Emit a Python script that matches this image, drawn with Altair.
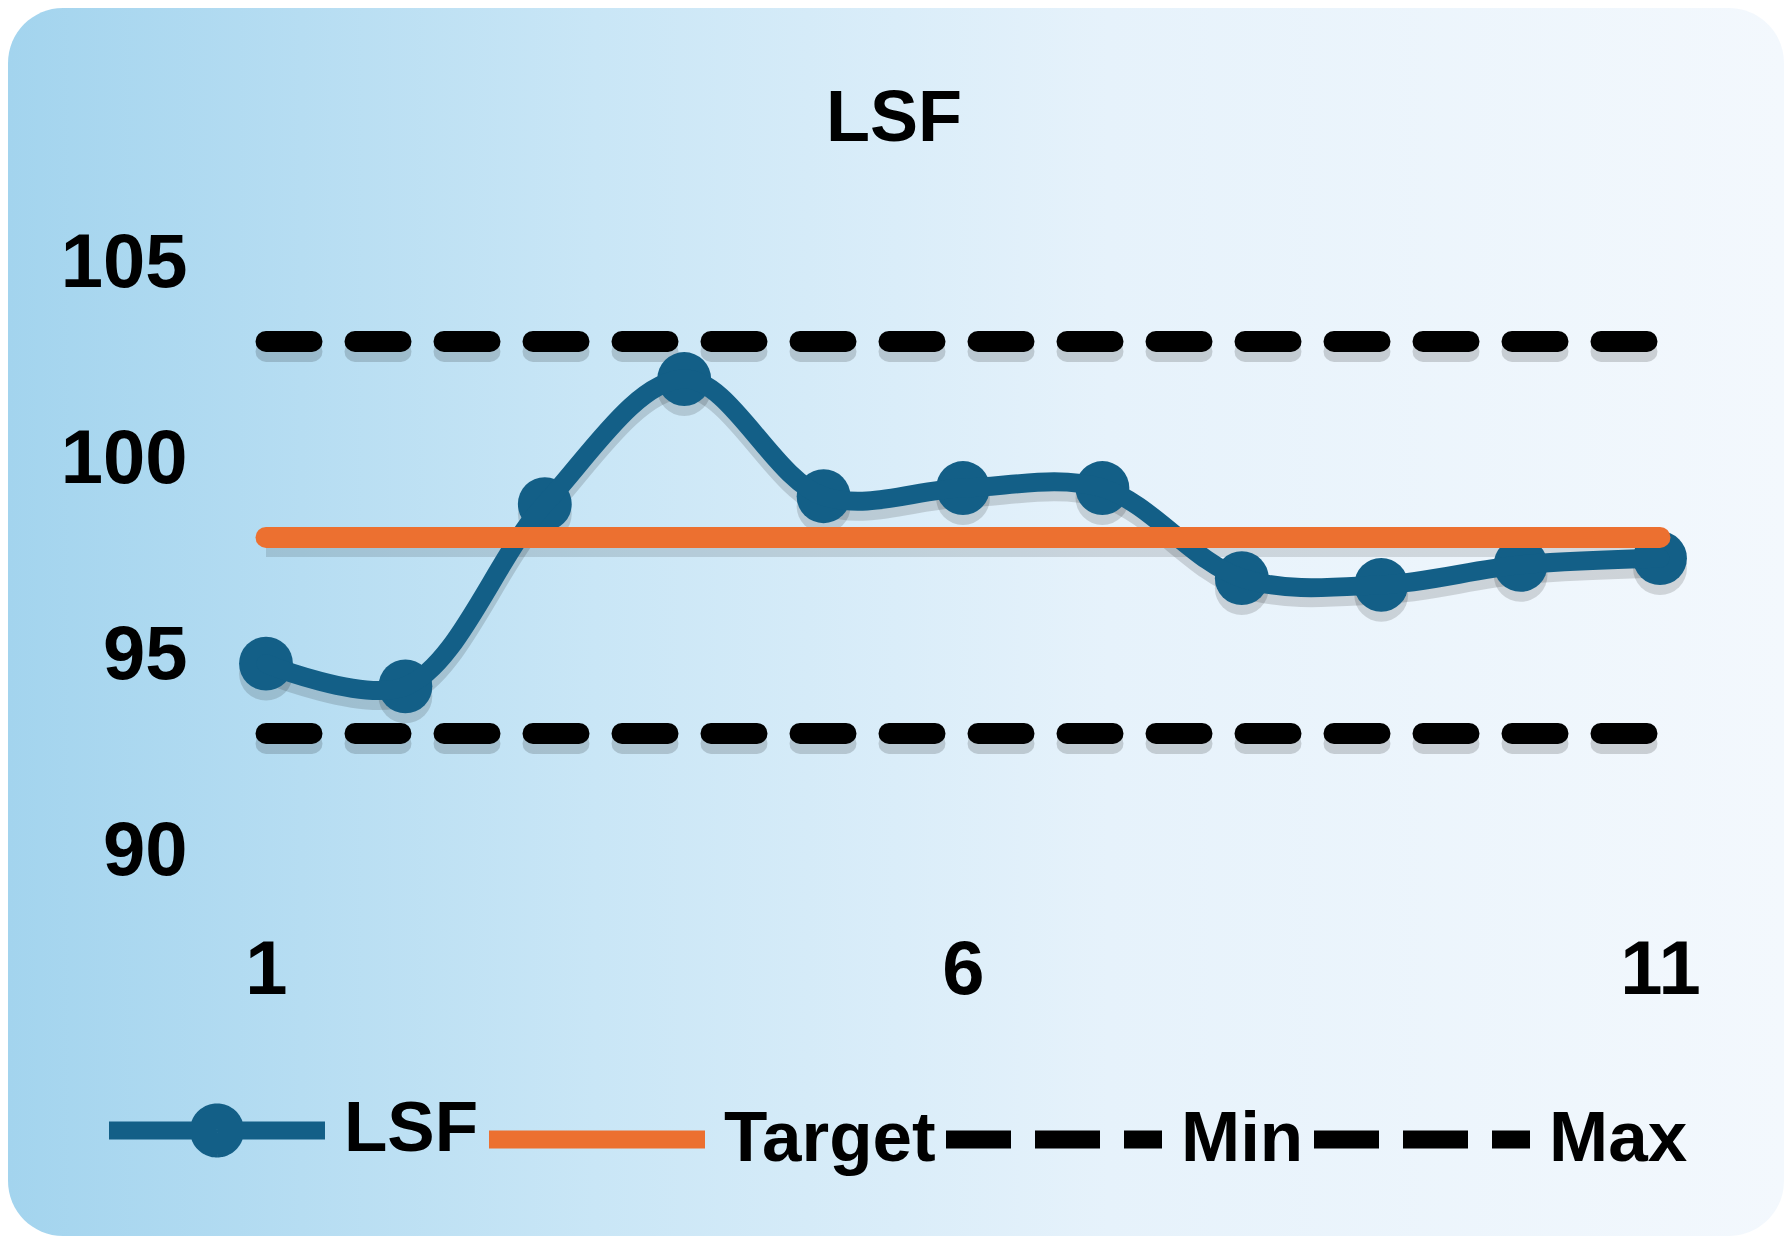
import altair as alt
import pandas as pd

# ---- data ----
x_vals = [1, 2, 3, 4, 5, 6, 7, 8, 9, 10, 11]
lsf_vals = [94.78, 94.2, 98.85, 102.04, 99.05, 99.26, 99.26, 96.96, 96.79, 97.3, 97.47]
target_vals = [98, 98, 98, 98, 98, 98, 98, 98, 98, 98, 98]
min_vals = [93, 93, 93, 93, 93, 93, 93, 93, 93, 93, 93]
max_vals = [103, 103, 103, 103, 103, 103, 103, 103, 103, 103, 103]
series_names = ["LSF", "Target", "Min", "Max"]
series_colors = ["#135f87", "#ec7030", "#000000", "#000000"]
y_ticks = [90, 95, 100, 105]
x_ticks = [1, 6, 11]
title_text = "LSF"

rows = []
for name, vals in zip(series_names, [lsf_vals, target_vals, min_vals, max_vals]):
    for xv, yv in zip(x_vals, vals):
        rows.append({"x": xv, "value": yv, "series": name})
df = pd.DataFrame(rows)

FONT = "Liberation Sans"
W, H = 1394, 588
PAD = {"left": 258, "top": 255, "right": 124, "bottom": 385}

xs = alt.Scale(domain=[1, 11], nice=False, zero=False)
ys = alt.Scale(domain=[90, 105], nice=False, zero=False)

x_enc = alt.X("x:Q", scale=xs, axis=alt.Axis(values=x_ticks, domain=False, ticks=False, tickSize=0,
                                                grid=False, labelFontSize=76, labelFont=FONT,
                                                labelFontWeight="bold", labelColor="black",
                                                labelPadding=82, labelFlush=False, title=None, zindex=2))
y_enc = alt.Y("value:Q", scale=ys, axis=alt.Axis(values=y_ticks, domain=False, ticks=False, tickSize=0,
                                                   grid=False, labelFontSize=76, labelFont=FONT,
                                                   labelFontWeight="bold", labelColor="black",
                                                   labelPadding=79, title=None, zindex=2))

base = alt.Chart(df)
is_dash = alt.FieldOneOfPredicate(field="series", oneOf=["Min", "Max"])
is_solid = alt.FieldOneOfPredicate(field="series", oneOf=["LSF", "Target"])

gradient = alt.LinearGradient(
    gradient="linear",
    stops=[alt.GradientStop(color="#a3d4ee", offset=0),
           alt.GradientStop(color="#c9e6f6", offset=0.33),
           alt.GradientStop(color="#e6f2fb", offset=0.62),
           alt.GradientStop(color="#f3f8fd", offset=1)],
    x1=0, x2=1, y1=0, y2=0)

bg = alt.Chart(pd.DataFrame({"k": [0]})).mark_rect(cornerRadius=55, color=gradient).encode(
    x=alt.value(-PAD["left"]), x2=alt.value(W + PAD["right"]),
    y=alt.value(-PAD["top"]), y2=alt.value(H + PAD["bottom"]))

# soft shadows
sh_dash = base.transform_filter(is_dash).mark_line(
    strokeDash=[46, 43], strokeCap="round", strokeWidth=21, color="#000000", opacity=0.16, yOffset=10
).encode(x=x_enc, y=y_enc, detail="series:N")
sh_target = base.transform_filter(alt.datum.series == "Target").mark_line(
    strokeWidth=21, color="#000000", opacity=0.12, yOffset=9
).encode(x=x_enc, y=y_enc)
sh_lsf = base.transform_filter(alt.datum.series == "LSF").mark_line(
    interpolate="catmull-rom", strokeWidth=19, color="#000000", opacity=0.14, yOffset=10
).encode(x=x_enc, y=y_enc)
sh_pts = base.transform_filter(alt.datum.series == "LSF").mark_circle(
    size=2900, color="#000000", opacity=0.14, yOffset=10
).encode(x=x_enc, y=y_enc)

points = base.transform_filter(alt.datum.series == "LSF").mark_circle(
    size=2900, color="#135f87", opacity=1
).encode(x=x_enc, y=y_enc)

legend_symbol = ("datum.label === 'LSF' ? "
                 "'M-1,0H1M0.046,0A0.046,0.046,0,1,1,-0.046,0A0.046,0.046,0,1,1,0.046,0Z"
                 "M0.13,0A0.13,0.13,0,1,1,-0.13,0A0.13,0.13,0,1,1,0.13,0Z"
                 "M0.167,0A0.167,0.167,0,1,1,-0.167,0A0.167,0.167,0,1,1,0.167,0Z' : 'stroke'")
legend_dash = "(datum.label === 'Min' || datum.label === 'Max') ? [65, 24] : [1, 0]"

leg = alt.Legend(orient="none", legendX=-166, legendY=750, direction="horizontal", title=None,
                 symbolType=alt.ExprRef(expr=legend_symbol), symbolSize=46656, symbolStrokeWidth=18,
                 symbolDash=alt.ExprRef(expr=legend_dash),
                 labelFontSize=71, labelFont=FONT, labelFontWeight="bold", labelColor="black",
                 labelOffset=10, columnPadding=-26, padding=0, labelLimit=400)

color_enc = alt.Color("series:N", scale=alt.Scale(domain=series_names, range=series_colors), legend=leg)

solid_lines = base.transform_filter(is_solid).mark_line(interpolate="catmull-rom", strokeCap="round").encode(
    x=x_enc, y=y_enc, color=color_enc,
    strokeWidth=alt.StrokeWidth("series:N", scale=alt.Scale(domain=["LSF", "Target"], range=[19, 21]),
                                legend=None),
)
dash_lines = base.transform_filter(is_dash).mark_line(
    strokeDash=[46, 43], strokeCap="round", strokeWidth=21
).encode(x=x_enc, y=y_enc, color=color_enc)

chart = alt.layer(bg, sh_dash, sh_target, sh_lsf, sh_pts, points, solid_lines, dash_lines).properties(
    width=W, height=H,
    autosize=alt.AutoSizeParams(type="none"),
    padding=PAD,
    background="white",
    title=alt.Title(title_text, fontSize=72, font=FONT, fontWeight="bold", color="black",
                    offset=108, dy=256, dx=-69, anchor="middle", zindex=2),
).configure_view(strokeWidth=0)

chart.save("out.html", embed_options={"renderer": "svg", "actions": False})
